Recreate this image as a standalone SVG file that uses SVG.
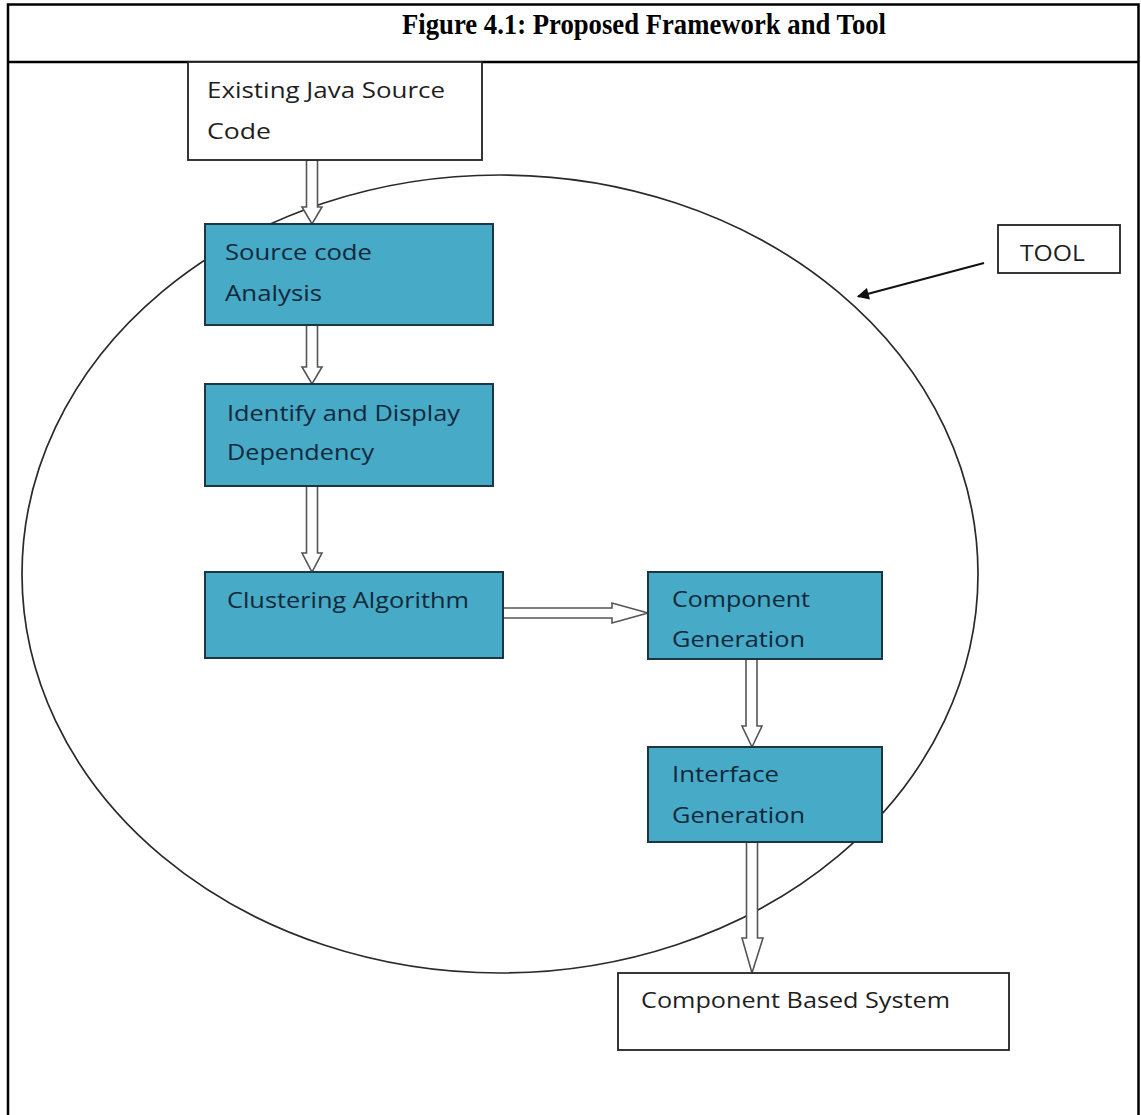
<svg xmlns="http://www.w3.org/2000/svg" width="1141" height="1115" viewBox="0 0 1141 1115">
  <style>
    .frame { fill: none; stroke: #000; stroke-width: 2.5; }
    .plain { fill: #fff; stroke: #222; stroke-width: 1.8; }
    .step { fill: #47aac6; stroke: #1c3644; stroke-width: 2; }
    .lbl { font-family: "Open Sans", "Liberation Sans", sans-serif; font-size: 22px; fill: #1e1e1e; }
    .lbl-step { fill: #10283a; }
    .title { font-family: "Liberation Serif", "Times New Roman", serif; font-weight: bold; font-size: 26px; fill: #000; }
    .flow { fill: #fff; stroke: #555; stroke-width: 1.6; stroke-linejoin: miter; }
    .boundary { fill: none; stroke: #2a2a2a; stroke-width: 1.7; }
    .pointer { fill: none; stroke: #111; stroke-width: 2; }
  </style>
  <defs>
    <marker id="solidHead" viewBox="0 0 10 10" refX="9" refY="5" markerWidth="13" markerHeight="12" orient="auto" markerUnits="userSpaceOnUse">
      <path d="M0,0 L10,5 L0,10 z" fill="#111"/>
    </marker>
  </defs>

  <rect width="1141" height="1115" fill="#fff"/>

  <!-- table frame with caption row -->
  <g id="frame">
    <path class="frame" d="M8,1115 V4.5 H1138.5 V1115"/>
    <line class="frame" x1="8" y1="62" x2="1138.5" y2="62"/>
    <text class="title" transform="translate(402,34) scale(1,1.15)" textLength="484" lengthAdjust="spacingAndGlyphs">Figure 4.1: Proposed Framework and Tool</text>
  </g>

  <!-- tool boundary -->
  <g id="tool-boundary">
    <ellipse class="boundary" cx="500" cy="574" rx="478" ry="399"/>
  </g>

  <!-- block arrows between steps -->
  <g id="connectors">
    <polygon class="flow" points="306.5,160 317.5,160 317.5,207 322,207 312,224 302,207 306.5,207"/>
    <polygon class="flow" points="306.5,325 317.5,325 317.5,367 322,367 312,384 302,367 306.5,367"/>
    <polygon class="flow" points="306.5,486 317.5,486 317.5,553 322,553 312,572 302,553 306.5,553"/>
    <polygon class="flow" points="503,608 612,608 612,603 648,613 612,623 612,618 503,618"/>
    <polygon class="flow" points="746,659 757,659 757,726 762,726 752,747 742,726 746,726"/>
    <polygon class="flow" points="746.5,842 757.5,842 757.5,938 763,938 752,973 742,938 746.5,938"/>
    <line class="pointer" x1="984" y1="263" x2="858" y2="296.5" marker-end="url(#solidHead)"/>
  </g>

  <g id="existing-source">
    <rect class="plain" x="188" y="62" width="294" height="98"/>
    <text class="lbl" x="207" y="98" textLength="238" lengthAdjust="spacingAndGlyphs">Existing Java Source</text>
    <text class="lbl" x="207" y="139" textLength="64" lengthAdjust="spacingAndGlyphs">Code</text>
  </g>

  <g id="source-analysis">
    <rect class="step" x="205" y="224" width="288" height="101"/>
    <text class="lbl lbl-step" x="225" y="260" textLength="147" lengthAdjust="spacingAndGlyphs">Source code</text>
    <text class="lbl lbl-step" x="225" y="301" textLength="97" lengthAdjust="spacingAndGlyphs">Analysis</text>
  </g>

  <g id="dependency">
    <rect class="step" x="205" y="384" width="288" height="102"/>
    <text class="lbl lbl-step" x="227" y="421" textLength="233" lengthAdjust="spacingAndGlyphs">Identify and Display</text>
    <text class="lbl lbl-step" x="227" y="460" textLength="147" lengthAdjust="spacingAndGlyphs">Dependency</text>
  </g>

  <g id="clustering">
    <rect class="step" x="205" y="572" width="298" height="86"/>
    <text class="lbl lbl-step" x="227" y="608" textLength="242" lengthAdjust="spacingAndGlyphs">Clustering Algorithm</text>
  </g>

  <g id="component-generation">
    <rect class="step" x="648" y="572" width="234" height="87"/>
    <text class="lbl lbl-step" x="672" y="607" textLength="138" lengthAdjust="spacingAndGlyphs">Component</text>
    <text class="lbl lbl-step" x="672" y="647" textLength="133" lengthAdjust="spacingAndGlyphs">Generation</text>
  </g>

  <g id="interface-generation">
    <rect class="step" x="648" y="747" width="234" height="95"/>
    <text class="lbl lbl-step" x="672" y="782" textLength="107" lengthAdjust="spacingAndGlyphs">Interface</text>
    <text class="lbl lbl-step" x="672" y="823" textLength="133" lengthAdjust="spacingAndGlyphs">Generation</text>
  </g>

  <g id="component-system">
    <rect class="plain" x="618" y="973" width="391" height="77"/>
    <text class="lbl" x="641" y="1008" textLength="309" lengthAdjust="spacingAndGlyphs">Component Based System</text>
  </g>

  <g id="tool-label">
    <rect class="plain" x="998" y="225" width="122" height="48"/>
    <text class="lbl" x="1020" y="261" textLength="65" lengthAdjust="spacingAndGlyphs">TOOL</text>
  </g>
</svg>
